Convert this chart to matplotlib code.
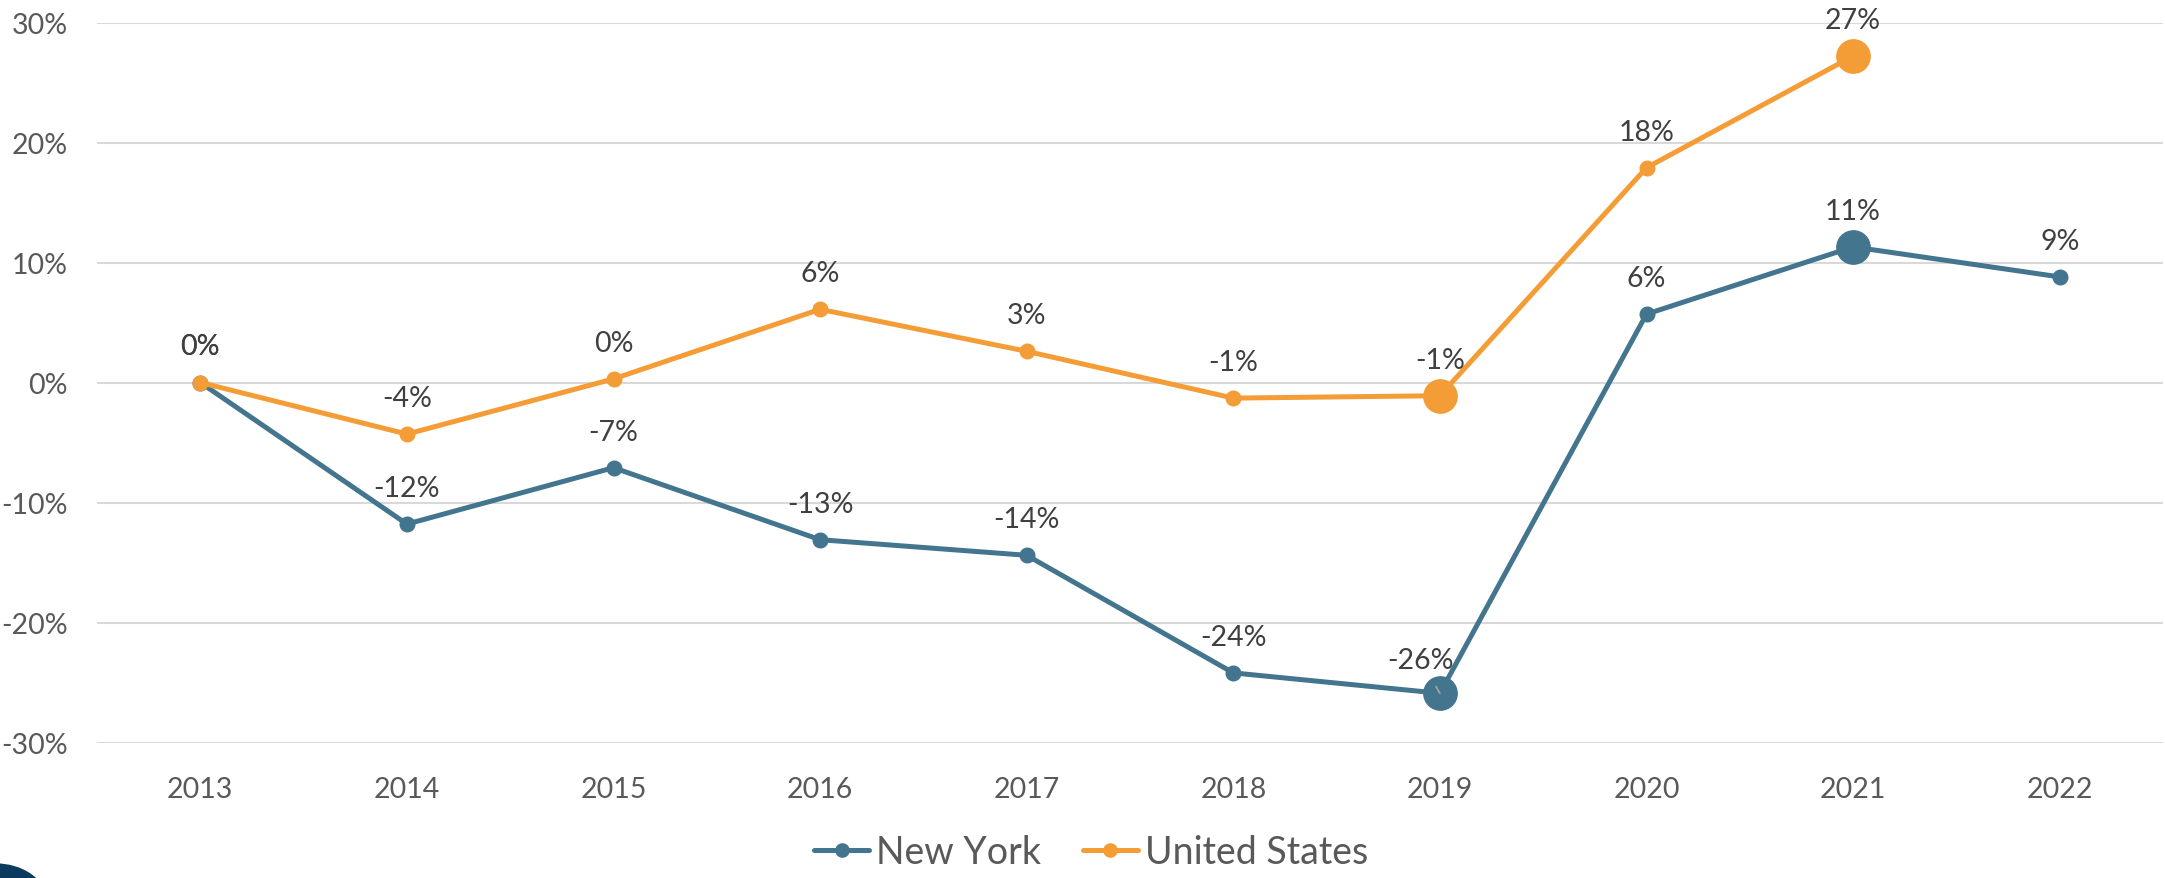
import numpy as np
import matplotlib.pyplot as plt
from matplotlib.patches import Ellipse

plt.switch_backend('Agg')
plt.rcParams['font.family'] = ['Lato', 'DejaVu Sans']

years = [2013, 2014, 2015, 2016, 2017, 2018, 2019, 2020, 2021, 2022]
new_york = [0.0, -11.8, -7.1, -13.1, -14.4, -24.2, -25.9, 5.7, 11.3, 8.8]
united_states = [0.0, -4.3, 0.3, 6.1, 2.6, -1.3, -1.1, 17.9, 27.2, np.nan]
highlight_years = [2019, 2021]
y_ticks = [-30, -20, -10, 0, 10, 20, 30]

NY_COLOR = '#44758F'
US_COLOR = '#F49D37'
TICK_COLOR = '#595959'
LABEL_COLOR = '#404040'

fig = plt.figure(figsize=(21.65, 8.79), dpi=100)
ax = fig.add_axes([97 / 2165, 1 - 743.5 / 879, 2066 / 2165, 720 / 879])

x = np.arange(len(years))
hl = [years.index(y) for y in highlight_years]

series = [(new_york, NY_COLOR, 'New York'), (united_states, US_COLOR, 'United States')]
for vals, col, name in series:
    vals = np.array(vals, dtype=float)
    ax.plot(x, vals, color=col, lw=3.6, marker='o', ms=10.5,
            solid_capstyle='round', label=name, zorder=3)
    ax.plot(x[hl], vals[hl], ls='none', marker='o', ms=24, color=col, zorder=4)
    for i, v in enumerate(vals):
        if np.isnan(v):
            continue
        txt = f"{round(v):.0f}%"
        if name == 'New York' and years[i] == 2019:
            # label pushed left with a short leader line
            ax.annotate(txt, (i, v), xytext=(-14, 24), textcoords='offset points',
                        ha='center', va='center', fontsize=20.5, color=LABEL_COLOR,
                        arrowprops=dict(arrowstyle='-', color='#A6A6A6', lw=1.2,
                                        shrinkA=9, shrinkB=0), zorder=5)
        else:
            ax.annotate(txt, (i, v), xytext=(0, 26), textcoords='offset points',
                        ha='center', va='center', fontsize=20.5, color=LABEL_COLOR,
                        zorder=5)

ax.set_xlim(-0.5, len(years) - 0.5)
ax.set_ylim(-30, 30)
ax.set_yticks(y_ticks)
ax.set_yticklabels([f"{t}%" for t in y_ticks])
ax.set_xticks(x)
ax.set_xticklabels([str(y) for y in years])
ax.tick_params(axis='both', length=0, labelsize=20.5, labelcolor=TICK_COLOR)
ax.tick_params(axis='y', pad=21)
ax.tick_params(axis='x', pad=24)
ax.grid(axis='y', color='#D9D9D9', lw=1.5, zorder=0)
ax.set_axisbelow(True)
for s in ax.spines.values():
    s.set_visible(False)

leg = fig.legend(loc='center', bbox_to_anchor=(1091 / 2165, 1 - 853 / 879),
                 ncol=2, frameon=False, fontsize=27, handlelength=1.47,
                 handletextpad=0.19, columnspacing=1.1, labelcolor=TICK_COLOR)
for h in leg.legend_handles:
    h.set_markersize(9.5)

# corner of a logo peeking in at the bottom left
fig.patches.append(Ellipse((-5 / 2165, -21 / 879), 100 / 2165, 70 / 879,
                           transform=fig.transFigure, color='#0B3A5E', zorder=10))

fig.savefig('out.png', dpi=100)
